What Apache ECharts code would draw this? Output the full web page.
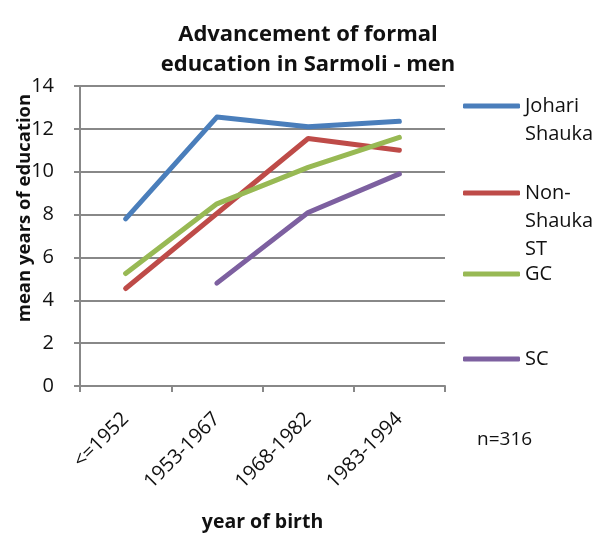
<!DOCTYPE html>
<html>
<head>
<meta charset="utf-8">
<script src="https://cdn.jsdelivr.net/npm/echarts@6/dist/echarts.min.js"></script>
<style>html,body{margin:0;padding:0;background:#fff}#c{width:595px;height:533px}</style>
</head>
<body>
<div id="c"></div>
<script>
var categories = ['<=1952', '1953-1967', '1968-1982', '1983-1994'];
var johariShauka = [7.8, 12.55, 12.1, 12.35];
var nonShaukaST = [4.55, 8.05, 11.55, 11.0];
var gcValues = [5.25, 8.5, 10.2, 11.6];
var scValues = [null, 4.8, 8.1, 9.9];
var seriesNames = ['Johari Shauka', 'Non-Shauka ST', 'GC', 'SC'];
var legendLabels = ['Johari\nShauka', 'Non-\nShauka\nST', 'GC', 'SC'];
var colors = ['#4a7ebb', '#be4b48', '#98b954', '#7d60a0'];
var yTicks = [0, 2, 4, 6, 8, 10, 12, 14];

var FONT = '"Open Sans", sans-serif';
var LH = 28;
var legendCenters = [106, 193, 274, 359];
var dataSets = [johariShauka, nonShaukaST, gcValues, scValues];

var legends = seriesNames.map(function (n, i) {
  var lines = legendLabels[i].split('\n');
  var k = lines.length;
  // pad with blank lines above so that the first real line sits level with the icon
  var txt = new Array(k).join('\n') + lines.join('\n');
  return {
    data: [n],
    left: 463,
    top: legendCenters[i] - (2 * k - 1) * LH / 2,
    orient: 'vertical',
    padding: 0,
    itemWidth: 57,
    itemHeight: 5,
    itemGap: 0,
    icon: 'roundRect',
    selectedMode: false,
    formatter: function () { return txt; },
    textStyle: { fontFamily: FONT, fontSize: 20, color: '#111', lineHeight: LH }
  };
});

var chart = echarts.init(document.getElementById('c'));
chart.setOption({
  animation: false,
  color: colors,
  title: {
    text: 'Advancement of formal\neducation in Sarmoli - men',
    left: 303, textAlign: 'center', top: 15,
    textStyle: { fontFamily: FONT, fontSize: 22, fontWeight: 'bold', color: '#111', lineHeight: 30 }
  },
  legend: legends,
  grid: { left: 80, right: 150, top: 86, bottom: 147, containLabel: false, outerBoundsMode: 'none' },
  xAxis: {
    type: 'category', data: categories, boundaryGap: true,
    name: 'year of birth', nameLocation: 'middle', nameGap: 126, nameMoveOverlap: false,
    nameTextStyle: { fontFamily: FONT, fontSize: 19.5, fontWeight: 'bold', color: '#111' },
    axisLine: { lineStyle: { color: '#888', width: 2 } },
    axisTick: { show: true, length: 6, lineStyle: { color: '#888', width: 2 } },
    axisLabel: { rotate: 45, margin: 30, fontFamily: FONT, fontSize: 20, color: '#111' }
  },
  yAxis: {
    type: 'value', min: 0, max: 14, interval: 2,
    name: 'mean years of education', nameLocation: 'middle', nameGap: 46, nameRotate: 90,
    nameMoveOverlap: false,
    nameTextStyle: { fontFamily: FONT, fontSize: 18.5, fontWeight: 'bold', color: '#111',
      padding: [0, 0, 0, 56] },
    axisLine: { show: true, onZero: false, lineStyle: { color: '#888', width: 2 } },
    axisTick: { show: true, length: 6, lineStyle: { color: '#888', width: 2 } },
    axisLabel: { margin: 26, fontFamily: FONT, fontSize: 20, color: '#111',
      formatter: function (v) { return yTicks.indexOf(v) >= 0 ? String(v) : ''; } },
    splitLine: { show: true, lineStyle: { color: '#888', width: 2 } }
  },
  graphic: [{
    type: 'text', left: 477, top: 430,
    style: { text: 'n=316', fontFamily: FONT, fontSize: 19, fill: '#111' }
  }],
  series: seriesNames.map(function (n, i) {
    return {
      name: n, type: 'line', data: dataSets[i],
      symbol: 'none', showSymbol: false, connectNulls: false,
      lineStyle: { width: 5, color: colors[i], cap: 'round', join: 'round' },
      itemStyle: { color: colors[i] }
    };
  })
});
</script>
</body>
</html>
